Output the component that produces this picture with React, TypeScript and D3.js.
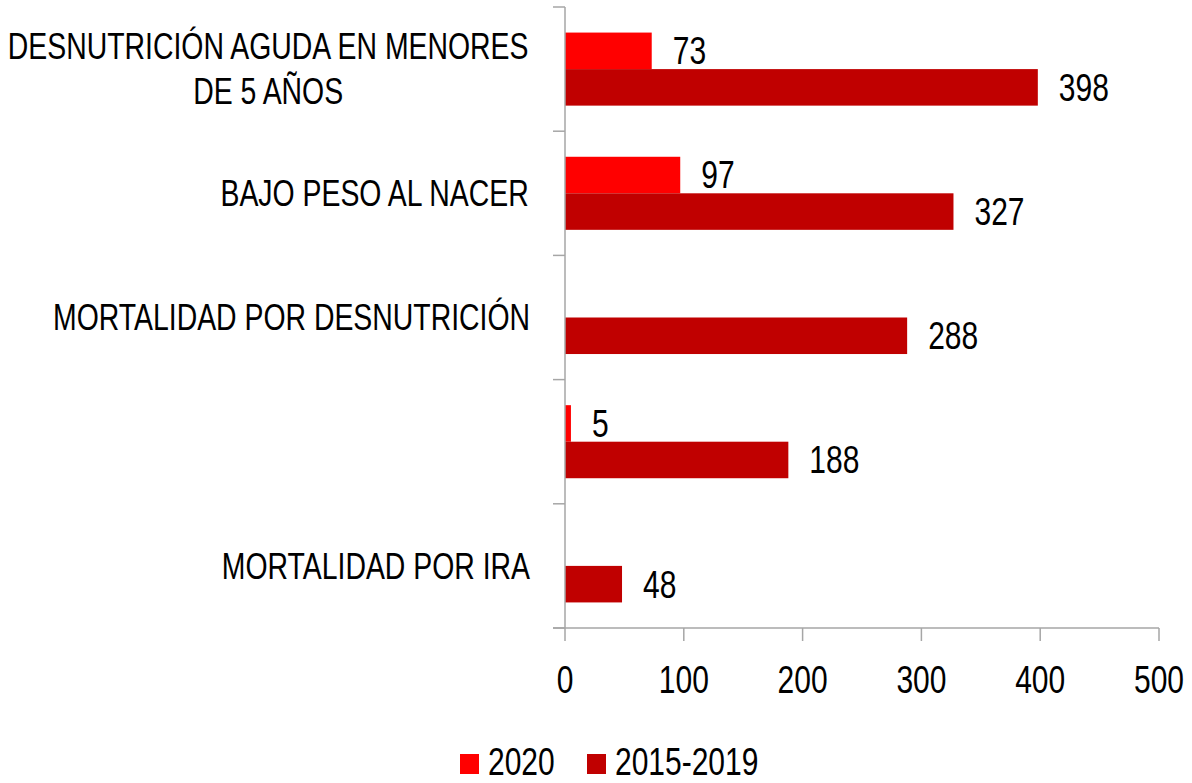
import React from "react";
import * as d3 from "d3";

const categories: string[][] = [
  ["DESNUTRICIÓN AGUDA EN MENORES", "DE 5 AÑOS"],
  ["BAJO PESO AL NACER"],
  ["MORTALIDAD POR DESNUTRICIÓN"],
  [""],
  ["MORTALIDAD POR IRA"],
];
const values2020: (number | null)[] = [73, 97, null, 5, null];
const values20152019: number[] = [398, 327, 288, 188, 48];
const seriesNames = ["2020", "2015-2019"];
const seriesColors = ["#FF0000", "#C00000"];
const xTicks = [0, 100, 200, 300, 400, 500];

const W = 1192;
const H = 783;
const FONT = "'Liberation Sans', Arial, sans-serif";
const SY = 1.28;

function measure(text: string, size: number): number {
  const c = document.createElement("canvas").getContext("2d");
  if (!c) return text.length * size * 0.6;
  c.font = `${size}px 'Liberation Sans', Arial, sans-serif`;
  return c.measureText(text).width;
}

function T({ x, y, children, size, anchor = "start" }: any) {
  return (
    <text
      transform={`translate(${x},${y}) scale(1,${SY})`}
      fontFamily={FONT}
      fontSize={size}
      textAnchor={anchor}
      dominantBaseline="central"
      fill="#000"
    >
      {children}
    </text>
  );
}

export default function App() {
  const x = d3.scaleLinear().domain([0, 500]).range([565, 1159]);
  const idx = categories.map((_, i) => i);
  const y = d3.scaleBand<number>().domain(idx).range([7, 628]).padding(0);
  const inner = d3
    .scaleBand<number>()
    .domain([0, 1])
    .range([0, y.bandwidth()])
    .paddingInner(0)
    .paddingOuter(0.7);
  const series = [values2020, values20152019];
  const axisColor = "#A6A6A6";
  const labelRight = 530;
  const catSize = 28.4;
  const numSize = 30;

  return (
    <svg width={W} height={H} style={{ position: "absolute", left: 0, top: 0 }}>
      <rect width={W} height={H} fill="#fff" />
      {series.map((vals, s) =>
        vals.map((v, i) =>
          v == null ? null : (
            <rect
              key={`b${s}-${i}`}
              x={x(0)}
              y={(y(i) as number) + (inner(s) as number)}
              width={x(v) - x(0)}
              height={inner.bandwidth()}
              fill={seriesColors[s]}
            />
          )
        )
      )}
      {series.map((vals, s) =>
        vals.map((v, i) =>
          v == null ? null : (
            <T
              key={`l${s}-${i}`}
              x={x(v) + 21}
              y={(y(i) as number) + (inner(s) as number) + inner.bandwidth() / 2}
              size={numSize}
            >
              {v}
            </T>
          )
        )
      )}
      <line x1={565} x2={565} y1={7} y2={628} stroke={axisColor} strokeWidth={1.5} />
      {[...idx, idx.length].map((i) => {
        const yy = i < idx.length ? (y(i) as number) : 628;
        return <line key={`yt${i}`} x1={553} x2={565} y1={yy} y2={yy} stroke={axisColor} strokeWidth={1.5} />;
      })}
      <line x1={553} x2={x(500)} y1={628} y2={628} stroke={axisColor} strokeWidth={1.5} />
      {xTicks.map((t) => (
        <g key={`xt${t}`}>
          <line x1={x(t)} x2={x(t)} y1={628} y2={641} stroke={axisColor} strokeWidth={1.5} />
          <T x={x(t)} y={680} size={numSize} anchor="middle">
            {t}
          </T>
        </g>
      ))}
      {categories.map((lines, i) => {
        const cy = (y(i) as number) + y.bandwidth() / 2;
        const lh = 45;
        const maxW = Math.max(...lines.map((l) => measure(l, catSize)));
        const cx = labelRight - maxW / 2;
        return lines.map((l, j) => (
          <T
            key={`c${i}-${j}`}
            x={cx}
            y={cy + (j - (lines.length - 1) / 2) * lh}
            size={catSize}
            anchor="middle"
          >
            {l}
          </T>
        ));
      })}
      <rect x={460} y={754} width={19} height={20} fill={seriesColors[0]} />
      <T x={488} y={762} size={numSize}>
        {seriesNames[0]}
      </T>
      <rect x={587} y={754} width={19} height={20} fill={seriesColors[1]} />
      <T x={615} y={762} size={numSize}>
        {seriesNames[1]}
      </T>
    </svg>
  );
}
